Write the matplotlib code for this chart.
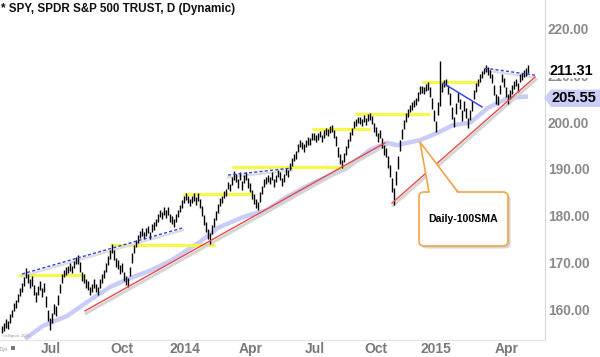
import matplotlib
matplotlib.use('Agg')
import matplotlib.pyplot as plt
from matplotlib.patches import FancyBboxPatch, Polygon, Rectangle

plt.rcParams['font.family'] = ['Liberation Sans', 'DejaVu Sans']

title = "* SPY, SPDR S&P 500 TRUST, D (Dynamic)"

# bar lows / highs (one bar per two trading days)
lows = [
    154.8, 155.2, 156.0, 155.8, 157.0, 158.2, 159.5, 160.2, 161.6, 162.7,
    163.6, 165.0, 166.6, 165.6, 164.6, 165.0, 163.0, 161.6, 163.0, 164.0,
    162.5, 163.6, 160.4, 157.4, 155.4, 157.0, 159.0, 158.6, 160.8, 163.4,
    165.6, 166.8, 167.2, 167.8, 168.2, 167.7, 168.7, 169.6, 169.6, 168.0,
    166.0, 165.6, 164.6, 164.0, 163.0, 163.6, 164.6, 163.6, 162.9, 164.6,
    165.6, 166.6, 168.0, 169.5, 170.8, 172.0, 170.5, 169.0, 168.6, 167.6,
    168.0, 166.0, 165.2, 164.8, 167.0, 169.8, 172.0, 173.2, 174.2, 175.2,
    175.7, 175.0, 175.6, 176.2, 175.0, 176.6, 177.0, 177.7, 178.7, 179.7,
    179.2, 180.2, 179.6, 180.2, 178.7, 178.2, 177.6, 178.6, 179.7, 180.7,
    181.7, 182.7, 183.3, 182.7, 182.0, 182.7, 183.2, 182.2, 183.2, 181.6,
    180.0, 178.0, 176.4, 175.0, 174.0, 176.0, 177.5, 179.0, 180.5, 182.0,
    182.7, 183.7, 184.2, 185.7, 185.2, 186.6, 187.6, 187.2, 186.0, 187.6,
    185.5, 187.0, 187.7, 186.0, 185.0, 183.5, 182.5, 181.6, 181.3, 183.0,
    184.6, 186.2, 186.7, 187.2, 186.7, 187.7, 186.2, 187.2, 188.2, 187.6,
    186.3, 187.2, 188.7, 188.2, 189.7, 190.7, 191.7, 192.2, 193.7, 194.7,
    194.2, 193.7, 194.7, 195.2, 195.2, 196.2, 196.2, 195.7, 196.2, 196.8,
    195.7, 196.7, 197.3, 197.0, 197.8, 198.0, 196.6, 195.0, 192.5, 191.0,
    190.3, 191.6, 193.1, 194.6, 196.1, 197.2, 198.7, 199.3, 199.8, 199.7,
    199.2, 200.0, 199.5, 200.3, 200.6, 199.6, 198.0, 197.0, 195.8, 196.6,
    194.5, 193.0, 192.5, 190.3, 188.2, 185.0, 182.2, 186.5, 190.0, 193.8,
    196.4, 198.5, 200.1, 201.2, 202.2, 202.7, 203.2, 203.7, 204.6, 206.1,
    206.2, 206.0, 206.7, 207.0, 205.5, 202.8, 200.3, 197.9, 201.6, 203.5,
    206.5, 207.5, 207.7, 206.0, 203.8, 200.8, 199.0, 201.8, 204.4, 202.9,
    200.3, 202.4, 200.9, 198.7, 200.4, 202.5, 205.0, 206.6, 207.7, 208.7,
    209.5, 210.3, 210.8, 210.2, 209.6, 208.5, 205.9, 204.0, 203.7, 206.0,
    208.6, 207.6, 205.4, 204.0, 205.1, 206.1, 207.2, 207.7, 206.6, 208.7,
    209.0, 209.7, 210.0, 210.5,
]
highs = [
    156.4, 157.0, 157.8, 157.4, 158.9, 159.8, 161.3, 162.0, 163.2, 164.4,
    165.5, 166.9, 168.8, 167.6, 166.4, 167.0, 165.2, 163.6, 165.0, 166.0,
    164.6, 165.6, 162.8, 159.8, 158.0, 159.2, 161.0, 160.6, 163.0, 165.4,
    167.4, 168.3, 168.9, 169.3, 169.8, 169.3, 170.3, 171.2, 171.6, 170.0,
    168.0, 167.4, 166.5, 166.0, 164.8, 165.4, 166.4, 165.4, 164.7, 166.4,
    167.4, 168.4, 169.9, 171.3, 172.6, 174.0, 172.6, 171.0, 170.5, 169.5,
    169.8, 168.0, 167.0, 166.6, 169.0, 172.0, 173.8, 174.8, 175.8, 176.8,
    177.3, 176.6, 177.3, 177.8, 176.6, 178.3, 178.6, 179.3, 180.3, 181.3,
    180.8, 181.8, 181.3, 181.8, 180.4, 179.9, 179.2, 180.3, 181.3, 182.3,
    183.3, 184.3, 184.8, 184.3, 183.6, 184.3, 184.8, 183.9, 184.8, 183.5,
    182.0, 180.2, 178.6, 177.2, 176.2, 178.0, 179.4, 180.9, 182.4, 183.8,
    184.3, 185.3, 185.8, 187.3, 186.8, 188.3, 189.5, 188.9, 187.9, 189.3,
    187.5, 188.8, 189.4, 188.0, 187.0, 185.6, 184.6, 183.6, 183.0, 185.0,
    186.4, 187.8, 188.3, 188.8, 188.3, 189.3, 187.9, 188.8, 189.8, 189.3,
    188.0, 188.9, 190.3, 189.8, 191.3, 192.3, 193.3, 193.8, 195.3, 196.2,
    195.8, 195.3, 196.3, 196.8, 196.7, 197.7, 197.8, 197.3, 197.8, 198.2,
    197.3, 198.3, 198.7, 198.5, 199.2, 199.5, 198.4, 197.0, 194.7, 193.2,
    192.0, 193.5, 194.9, 196.4, 197.9, 198.8, 200.3, 200.7, 201.2, 201.2,
    200.8, 201.5, 201.0, 201.7, 202.0, 201.3, 199.9, 199.0, 197.8, 198.4,
    196.6, 195.1, 194.6, 192.7, 190.8, 188.0, 186.0, 189.5, 192.8, 196.2,
    198.6, 200.4, 201.9, 202.8, 203.8, 204.3, 204.8, 205.3, 206.4, 207.8,
    207.8, 207.6, 208.3, 208.6, 207.5, 205.2, 202.7, 200.3, 204.4, 213.2,
    208.4, 209.0, 209.3, 208.0, 206.2, 203.3, 201.2, 204.2, 206.5, 205.1,
    202.7, 204.6, 203.1, 201.0, 202.6, 204.5, 207.0, 208.4, 209.3, 210.3,
    211.0, 211.7, 212.2, 211.8, 211.3, 210.4, 208.1, 206.1, 205.6, 208.0,
    210.4, 209.4, 207.6, 206.1, 206.9, 207.9, 208.8, 209.3, 208.4, 210.3,
    210.6, 211.3, 211.6, 212.2,
]

# 100-day SMA read at sample bars
sma_idx = [11.5, 20.5, 32.5, 44, 54, 63, 75, 85, 99, 108, 120.5, 132.5, 141.5,
           155.5, 172.5, 184, 192.5, 197.5, 209, 217.5, 225.5, 234, 243, 253, 263]
sma_val = [153.6, 156.4, 158.5, 161.9, 164.7, 166.4, 168.4, 170.5, 174.4, 177.4,
           179.7, 181.2, 183.8, 187.0, 190.2, 194.1, 195.6, 195.1, 196.2, 197.7,
           199.4, 199.9, 203.1, 205.2, 205.55]

month_ticks = [24.5, 60, 91.5, 124.5, 156.5, 187, 217, 252.5]
month_labels = ['Jul', 'Oct', '2014', 'Apr', 'Jul', 'Oct', '2015', 'Apr']
price_ticks = [160, 170, 180, 190, 200, 210, 220]
last_price = 211.31
sma_last = 205.55

# analyst drawings
red_lines = [((41.5, 159.6), (191.5, 195.6)), ((195, 182.7), (266.5, 209.7))]
blue_dashed = [((10, 167.5), (90.5, 177.4)), ((113, 188.7), (145, 190.2)),
               ((241.5, 211.6), (266.5, 210.1))]
blue_solid = [((220.5, 208.4), (240, 203.3))]
level_price = [167.3, 173.7, 184.6, 190.4, 198.6, 201.8, 208.6]
level_start = [8, 54, 90.5, 115, 155, 176.5, 210]
level_end = [41.5, 106.5, 125.5, 173, 184, 214, 239]

fig = plt.figure(figsize=(6, 3.57), dpi=100)
ax = fig.add_axes([0, 1 - 340 / 357, 545 / 600, 340 / 357])
ax.set_xlim(-1, 271.5)
ax.set_ylim(153.36, 226.21)

# SMA
ax.plot(sma_idx, sma_val, color='#c9ccf6', lw=3.2, solid_capstyle='butt', zorder=1)

# yellow levels
for p, s, e in zip(level_price, level_start, level_end):
    ax.plot([s, e], [p, p], color='#f8f84a', lw=2.3, zorder=2, solid_capstyle='butt')

# red trend lines with grey shadow
for (x0, y0), (x1, y1) in red_lines:
    ax.plot([x0 + 0.5, x1 + 0.5], [y0 - 0.55, y1 - 0.55], color='#d4d4d4', lw=2.0, zorder=2)
    ax.plot([x0, x1], [y0, y1], color='#e84a4a', lw=1.0, zorder=4)

# price bars
idx = list(range(len(lows)))
ax.vlines(idx, lows, highs, color='black', lw=1.0, zorder=3)

for (x0, y0), (x1, y1) in blue_dashed:
    ax.plot([x0, x1], [y0 - 0.5, y1 - 0.5], color='#dcdcdc', lw=1.6, zorder=2)
    ax.plot([x0, x1], [y0, y1], color='#2f3fe0', lw=1.0, ls=(0, (2.2, 1.6)), zorder=4)
for (x0, y0), (x1, y1) in blue_solid:
    ax.plot([x0, x1], [y0, y1], color='#3a48e0', lw=1.1, zorder=4)

ax.yaxis.tick_right()
ax.set_yticks(price_ticks)
ax.set_yticklabels([f'{p:.2f}' for p in price_ticks])
ax.set_xticks(month_ticks)
ax.set_xticklabels(month_labels)
ax.tick_params(axis='y', length=0, pad=2, labelsize=9.8, labelcolor='#8a8a8a')
ax.tick_params(axis='x', length=0, pad=1.5, labelsize=10, labelcolor='#7a7a7a')
for lab in ax.get_xticklabels() + ax.get_yticklabels():
    lab.set_fontweight('bold')
for s in ['top', 'left']:
    ax.spines[s].set_visible(False)
ax.spines['right'].set_color('#d8d8d8')
ax.spines['bottom'].set_color('#e4e4e4')
ax.spines['right'].set_linewidth(0.8)
ax.spines['bottom'].set_linewidth(0.8)

# overlay in pixel coordinates for labels / callout
ov = fig.add_axes([0, 0, 1, 1], zorder=5)
ov.set_xlim(0, 600)
ov.set_ylim(357, 0)
ov.axis('off')
ov.patch.set_alpha(0)

ov.text(1, 9, title, fontsize=8.4, fontweight='bold', va='center', ha='left', color='#111111')

# callout
ov.add_patch(FancyBboxPatch((421.5, 194.5), 89, 54, boxstyle='round,pad=0,rounding_size=5',
                            fc='#d6d6d6', ec='none'))
ov.add_patch(Polygon([(431, 196), (422, 144), (460, 196)], closed=True, fc='#d6d6d6', ec='none'))
ov.add_patch(FancyBboxPatch((419, 192), 89, 54, boxstyle='round,pad=0,rounding_size=5',
                            fc='white', ec='#f2a444', lw=1.2))
ov.add_patch(Polygon([(429.3, 193.6), (420, 142), (457.7, 193.6)], closed=True, fc='white', ec='none'))
ov.plot([429, 420, 458], [192, 142, 192], color='#f2a444', lw=1.2)
ov.text(463, 219, 'Daily-100SMA', fontsize=7.6, fontweight='bold', ha='center', va='center')

# price tags
ov.text(550, 71, f'{last_price:.2f}', fontsize=10.5, fontweight='bold', ha='left', va='center',
        color='black', bbox=dict(fc='white', ec='none', pad=0.3))
ov.add_patch(Polygon([(544, 98), (551, 89.5), (600, 89.5), (600, 107), (551, 107)], closed=True,
                     fc='#cbcef7', ec='none'))
ov.text(551, 98, f'{sma_last:.2f}', fontsize=10.5, fontweight='bold', ha='left', va='center', color='black')

# watermark bits
ov.text(2, 336, '\u00a9eSignal, 2015', fontsize=3, color='#9a9a9a', va='center')
ov.text(0, 349, 'Dys', fontsize=3.5, color='#9a9a9a', va='center')
ov.add_patch(Rectangle((11, 346), 4, 4, fc='#777777', ec='none'))

fig.savefig('out.png', dpi=100)
